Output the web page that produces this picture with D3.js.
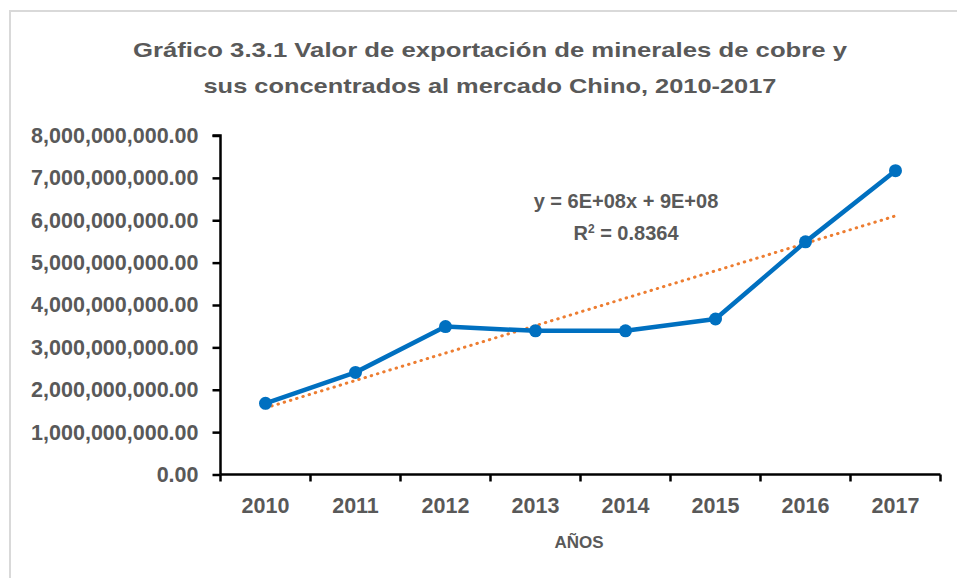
<!DOCTYPE html>
<html>
<head>
<meta charset="utf-8">
<script src="https://cdn.jsdelivr.net/npm/d3@7"></script>
<style>
  body { margin: 0; background: #fff; }
  text { font-family: "Liberation Sans", Arial, sans-serif; font-weight: bold; fill: #595959; }
</style>
</head>
<body>
<div id="chart"></div>
<script>
var width = 957;
var height = 578;

// data
var years = ["2010", "2011", "2012", "2013", "2014", "2015", "2016", "2017"];
var exportValues = [1.68e9, 2.41e9, 3.49e9, 3.39e9, 3.39e9, 3.67e9, 5.49e9, 7.17e9];
var yTicks = [0, 1e9, 2e9, 3e9, 4e9, 5e9, 6e9, 7e9, 8e9];
var titleLines = ["Gráfico 3.3.1 Valor de exportación de minerales de cobre y",
                  "sus concentrados al mercado Chino, 2010-2017"];
var trendLabel = "y = 6E+08x + 9E+08";
var r2Value = "0.8364";

var svg = d3.select("#chart").append("svg")
  .attr("width", width)
  .attr("height", height)

// chart border
svg.append("rect")
  .attr("x", 10)
  .attr("y", 11)
  .attr("width", 980)
  .attr("height", 600)
  .attr("fill", "none")
  .attr("stroke", "#d9d9d9")
  .attr("stroke-width", 2)

// title
var titleWidths = [714, 573];
svg.selectAll("text.title")
  .data(titleLines)
  .enter().append("text")
  .attr("class", "title")
  .attr("x", 490)
  .attr("y", function(d, i) { return 57 + i * 36 })
  .attr("text-anchor", "middle")
  .attr("font-size", "20.5px")
  .attr("textLength", function(d, i) { return titleWidths[i] })
  .attr("lengthAdjust", "spacingAndGlyphs")
  .text(function(d) { return d })

var x = d3.scaleBand().domain(years).range([220.5, 940.5])
var y = d3.scaleLinear().domain([0, 8e9]).range([474.5, 135.5])

var fmt = d3.format(",.2f")

// y axis
var yAxis = svg.append("g")
  .attr("transform", "translate(220.5,0)")
  .call(d3.axisLeft(y).tickValues(yTicks).tickSize(8).tickPadding(14).tickFormat(fmt))
yAxis.selectAll("path, line").attr("stroke", "#000").attr("stroke-width", 2.5)
yAxis.select(".domain").attr("d", "M-8," + y(8e9) + "H0V" + y(0))
yAxis.selectAll("text")
  .attr("font-size", "21.5px")
  .attr("font-family", null)
  .attr("fill", "#595959")

// x axis, ticks between categories
var xAxis = svg.append("g")
  .attr("transform", "translate(0,474.5)")
xAxis.append("line")
  .attr("x1", x.range()[0])
  .attr("x2", x.range()[1])
  .attr("stroke", "#000")
  .attr("stroke-width", 2.5)
var bounds = years.map(function(d) { return x(d) }).concat([x.range()[1]])
xAxis.selectAll("line.tick")
  .data(bounds)
  .enter().append("line")
  .attr("class", "tick")
  .attr("x1", function(d) { return d })
  .attr("x2", function(d) { return d })
  .attr("y1", 0)
  .attr("y2", 7)
  .attr("stroke", "#000")
  .attr("stroke-width", 2.5)
xAxis.selectAll("text.year")
  .data(years)
  .enter().append("text")
  .attr("class", "year")
  .attr("x", function(d) { return x(d) + x.bandwidth() / 2 })
  .attr("y", 38.5)
  .attr("text-anchor", "middle")
  .attr("font-size", "21.5px")
  .text(function(d) { return d })

svg.append("text")
  .attr("x", 579)
  .attr("y", 548)
  .attr("text-anchor", "middle")
  .attr("font-size", "17px")
  .text("AÑOS")

var cx = function(d, i) { return x(years[i]) + x.bandwidth() / 2 }

// linear trend (least squares on the series)
var n = exportValues.length;
var xm = d3.mean(d3.range(1, n + 1));
var ym = d3.mean(exportValues);
var sxy = d3.sum(exportValues, function(v, i) { return (i + 1 - xm) * (v - ym) });
var sxx = d3.sum(d3.range(1, n + 1), function(k) { return (k - xm) * (k - xm) });
var slope = sxy / sxx;
var intercept = ym - slope * xm;

svg.append("line")
  .attr("x1", cx(null, 0))
  .attr("y1", y(intercept + slope * 1))
  .attr("x2", cx(null, n - 1))
  .attr("y2", y(intercept + slope * n))
  .attr("stroke", "#ED7D31")
  .attr("stroke-width", 3)
  .attr("stroke-linecap", "round")
  .attr("stroke-dasharray", "0.5,6")

// series line
var line = d3.line()
  .x(cx)
  .y(function(d) { return y(d) })
svg.append("path")
  .datum(exportValues)
  .attr("d", line)
  .attr("fill", "none")
  .attr("stroke", "#0070C0")
  .attr("stroke-width", 4.5)
  .attr("stroke-linejoin", "round")

svg.selectAll("circle.pt")
  .data(exportValues)
  .enter().append("circle")
  .attr("class", "pt")
  .attr("cx", cx)
  .attr("cy", function(d) { return y(d) })
  .attr("r", 6.5)
  .attr("fill", "#0070C0")

// trendline label
svg.append("text")
  .attr("x", 626)
  .attr("y", 208)
  .attr("text-anchor", "middle")
  .attr("font-size", "20px")
  .text(trendLabel)

var r2 = svg.append("text")
  .attr("x", 626)
  .attr("y", 240)
  .attr("text-anchor", "middle")
  .attr("font-size", "20px")
r2.append("tspan").text("R")
r2.append("tspan").attr("dy", -7).attr("font-size", "12px").text("2")
r2.append("tspan").attr("dy", 7).text(" = " + r2Value)
</script>
</body>
</html>
